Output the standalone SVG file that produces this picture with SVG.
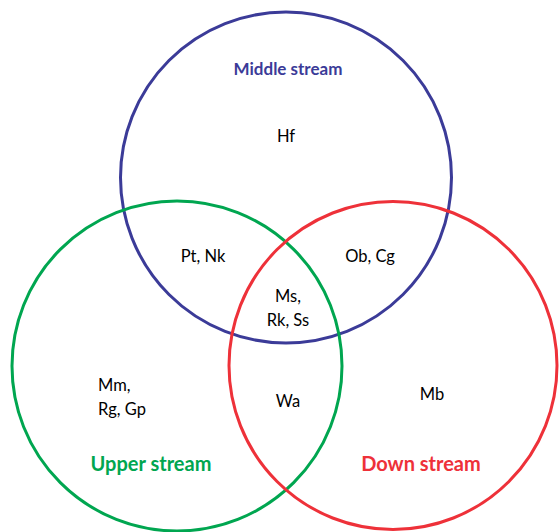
<svg xmlns="http://www.w3.org/2000/svg" width="559" height="532" viewBox="0 0 559 532">
<style>
.c{fill:none;stroke-width:3}
.t{font-family:Lato,"Open Sans",sans-serif;font-size:16.5px;fill:#000;text-anchor:middle}
.h{font-family:Lato,"Open Sans",sans-serif;font-weight:bold;font-size:17px;text-anchor:middle}
.b{font-size:20px}
</style>
<rect width="559" height="532" fill="#fff"/>
<g id="middle-stream">
<circle class="c" cx="286" cy="177.5" r="165.5" stroke="#3B3B98"/>
<text class="h" x="288" y="75" fill="#3B3B98">Middle stream</text>
</g>
<g id="upper-stream">
<circle class="c" cx="177" cy="366" r="165" stroke="#00A650"/>
<text class="h b" x="151" y="471" fill="#00A650">Upper stream</text>
</g>
<g id="down-stream">
<circle class="c" cx="393" cy="365.5" r="164" stroke="#EE3139"/>
<text class="h b" x="421" y="471" fill="#EE3139">Down stream</text>
</g>
<g id="labels">
<text class="t" x="286" y="142">Hf</text>
<text class="t" x="203" y="262">Pt, Nk</text>
<text class="t" x="370" y="262">Ob, Cg</text>
<text class="t" x="288" y="302">Ms,</text>
<text class="t" x="288" y="326">Rk, Ss</text>
<text class="t" x="98" y="391" style="text-anchor:start">Mm,</text>
<text class="t" x="98" y="415" style="text-anchor:start">Rg, Gp</text>
<text class="t" x="288" y="407">Wa</text>
<text class="t" x="432" y="400">Mb</text>
</g>
<g id="connectors"></g>
</svg>
